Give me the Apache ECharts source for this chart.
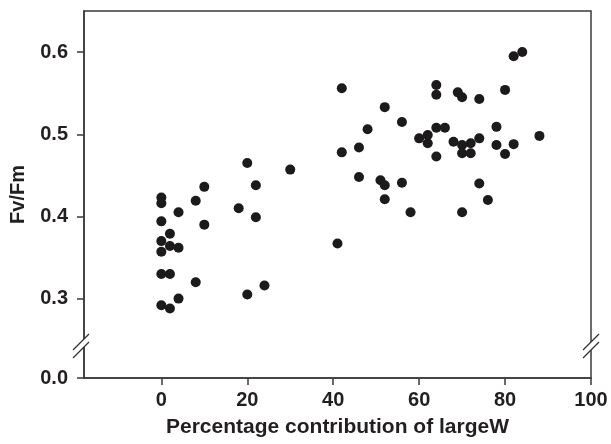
<!DOCTYPE html>
<html>
<head>
<meta charset="utf-8">
<script src="https://cdn.jsdelivr.net/npm/echarts@6/dist/echarts.min.js"></script>
<style>html,body{margin:0;padding:0;background:#fff}#c{width:611px;height:444px}</style>
</head>
<body>
<div id="c"></div>
<script>
// Data
const xValues = [0,0,0,0,0,0,0, 2,2,2,2, 4,4,4, 8,8, 10,10, 18, 20,20, 22,22, 24, 30, 41, 42,42, 46,46, 48, 51, 52,52,52, 56,56, 58, 60, 62,62, 64,64,64,64, 66, 68, 69, 70,70,70,70, 72,72, 74,74,74, 76, 78,78, 80,80, 82,82, 84, 88];
const yValues = [0.423,0.416,0.394,0.370,0.357,0.330,0.292, 0.379,0.364,0.330,0.288, 0.405,0.362,0.300, 0.419,0.320, 0.436,0.390, 0.410, 0.465,0.305, 0.438,0.399, 0.316, 0.457, 0.367, 0.556,0.478, 0.484,0.448, 0.506, 0.444, 0.438,0.421,0.533, 0.515,0.441, 0.405, 0.495, 0.499,0.489, 0.560,0.548,0.508,0.473, 0.508, 0.491, 0.551, 0.545,0.487,0.477,0.405, 0.489,0.477, 0.543,0.495,0.440, 0.420, 0.509,0.487, 0.554,0.476, 0.488,0.595, 0.600, 0.498];
const xTicks = [0, 20, 40, 60, 80, 100];
const yTicks = [0.3, 0.4, 0.5, 0.6];
const yBreakLabel = '0.0';
const xTitle = 'Percentage contribution of largeW';
const yTitle = 'Fv/Fm';

// Axis layout (broken y axis: the bottom of the axis stands for 0.0)
const xMin = -18, xMax = 100;
const yBottom = 0.2034, yTop = 0.65;

const points = xValues.map((x, i) => [x, yValues[i]]);
const chart = echarts.init(document.getElementById('c'), null, {renderer: 'canvas'});
const font = '"Liberation Sans", Arial, sans-serif';
const axisColor = '#3a3a3a';
const textColor = '#231f20';

const breakLines = (x) => {
  const els = [];
  els.push({type: 'polygon', shape: {points: [[x - 8, 350], [x + 8, 334], [x + 8, 342], [x - 8, 358]]}, style: {fill: '#fff'}, z: 100});
  els.push({type: 'line', shape: {x1: x - 8, y1: 350, x2: x + 8, y2: 334}, style: {stroke: '#333', lineWidth: 1.2}, z: 101});
  els.push({type: 'line', shape: {x1: x - 8, y1: 358, x2: x + 8, y2: 342}, style: {stroke: '#333', lineWidth: 1.2}, z: 101});
  return els;
};

chart.setOption({
  animation: false,
  backgroundColor: '#fff',
  grid: {left: 81, right: 20, top: 11, bottom: 66, show: true, borderColor: axisColor, borderWidth: 1.5, backgroundColor: 'transparent'},
  xAxis: {
    type: 'value', min: xMin, max: xMax,
    name: xTitle, nameLocation: 'middle', nameGap: 39,
    nameTextStyle: {fontFamily: font, fontWeight: 'bold', fontSize: 21, color: textColor},
    axisLine: {show: true, onZero: false, lineStyle: {color: axisColor, width: 1.5}},
    axisTick: {show: true, length: 7, customValues: xTicks, lineStyle: {color: axisColor, width: 1.5}},
    axisLabel: {customValues: xTicks, margin: 12, fontFamily: font, fontWeight: 'bold', fontSize: 20, color: textColor},
    splitLine: {show: false}
  },
  yAxis: {
    type: 'value', min: yBottom, max: yTop,
    name: yTitle, nameLocation: 'middle', nameGap: 56,
    nameTextStyle: {fontFamily: font, fontWeight: 'bold', fontSize: 20, color: textColor},
    axisLine: {show: true, onZero: false, lineStyle: {color: axisColor, width: 1.5}},
    axisTick: {show: true, length: 7, customValues: [yBottom].concat(yTicks), lineStyle: {color: axisColor, width: 1.5}},
    axisLabel: {
      customValues: [yBottom].concat(yTicks), margin: 16,
      fontFamily: font, fontWeight: 'bold', fontSize: 20, color: textColor,
      formatter: (v) => (v < 0.25 ? yBreakLabel : v.toFixed(1))
    },
    splitLine: {show: false}
  },
  series: [{
    type: 'scatter', data: points, symbol: 'circle', symbolSize: 10,
    itemStyle: {color: '#1c1a1b', opacity: 1}
  }],
  graphic: breakLines(81).concat(breakLines(591))
});
</script>
</body>
</html>
